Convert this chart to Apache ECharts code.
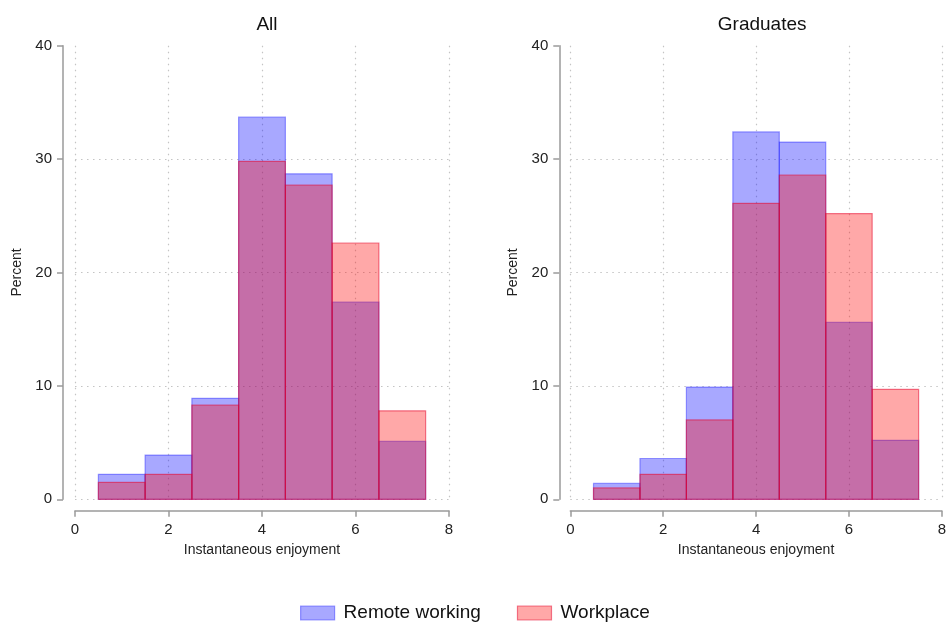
<!DOCTYPE html>
<html>
<head>
<meta charset="utf-8">
<script src="https://cdn.jsdelivr.net/npm/echarts@6/dist/echarts.min.js"></script>
<style>
  html, body { margin: 0; padding: 0; background: #fff; }
  #chart { width: 949px; height: 623px; }
</style>
</head>
<body>
<div id="chart"></div>
<script>
// Histogram bins (centre of each unit-wide bin) and percentages per group
const binCentres = [1, 2, 3, 4, 5, 6, 7];
const panelTitles = ['All', 'Graduates'];
const seriesNames = ['Remote working', 'Workplace'];

const allRemote    = [2.2, 3.9, 8.9, 33.7, 28.7, 17.4, 5.1];
const allWorkplace = [1.5, 2.2, 8.3, 29.8, 27.7, 22.6, 7.8];
const gradRemote    = [1.4, 3.6, 9.9, 32.4, 31.5, 15.6, 5.2];
const gradWorkplace = [1.0, 2.2, 7.0, 26.1, 28.6, 25.2, 9.7];

const xTicks = [0, 2, 4, 6, 8];
const yTicks = [0, 10, 20, 30, 40];

const panelData = [
  [allRemote, allWorkplace],
  [gradRemote, gradWorkplace]
];

const FONT = 'Liberation Sans, Arial, sans-serif';
const fills = ['rgba(0,0,255,0.34)', 'rgba(255,0,0,0.34)'];
const strokes = ['rgba(40,40,255,0.45)', 'rgba(230,0,40,0.5)'];

const grids = [
  { left: 75, width: 374, top: 45.7, height: 453.6 },
  { left: 570.3, width: 373.7, top: 45.7, height: 453.6 }
];

function histRenderer(fill, stroke) {
  return function (params, api) {
    const x = api.value(0);
    const v = api.value(1);
    const p0 = api.coord([x - 0.5, v]);
    const p1 = api.coord([x + 0.5, 0]);
    return {
      type: 'rect',
      shape: { x: p0[0], y: p0[1], width: p1[0] - p0[0], height: p1[1] - p0[1] },
      style: { fill: fill, stroke: stroke, lineWidth: 1.2 }
    };
  };
}

const xAxes = [], yAxes = [], series = [], titles = [];
grids.forEach(function (g, i) {
  titles.push({
    text: panelTitles[i],
    left: g.left + g.width / 2,
    top: 10,
    textAlign: 'center',
    textStyle: { fontFamily: FONT, fontSize: 19, fontWeight: 'normal', color: '#111' }
  });
  xAxes.push({
    type: 'value', gridIndex: i,
    min: xTicks[0], max: xTicks[xTicks.length - 1], interval: xTicks[1] - xTicks[0],
    offset: 11.4,
    name: 'Instantaneous enjoyment', nameLocation: 'middle', nameGap: 32,
    nameTextStyle: { fontFamily: FONT, fontSize: 14, color: '#222' },
    axisLine: { show: true, onZero: false, lineStyle: { color: '#9a9a9a', width: 1.5 } },
    axisTick: { show: true, length: 6, lineStyle: { color: '#9a9a9a', width: 1.5 } },
    axisLabel: { fontFamily: FONT, fontSize: 15, color: '#222', margin: 12 },
    splitLine: { show: true, lineStyle: { color: '#c4c4c4', type: [1.5, 4.5], width: 1.2 } }
  });
  yAxes.push({
    type: 'value', gridIndex: i,
    min: yTicks[0], max: yTicks[yTicks.length - 1], interval: yTicks[1] - yTicks[0],
    offset: i === 0 ? 12 : 11,
    name: 'Percent', nameLocation: 'middle', nameGap: 39,
    nameTextStyle: { fontFamily: FONT, fontSize: 14, color: '#222' },
    axisLine: { show: true, onZero: false, lineStyle: { color: '#9a9a9a', width: 1.5 } },
    axisTick: { show: true, length: 6, lineStyle: { color: '#9a9a9a', width: 1.5 } },
    axisLabel: { fontFamily: FONT, fontSize: 15, color: '#222', margin: 11 },
    splitLine: { show: true, showMaxLine: false, lineStyle: { color: '#c4c4c4', type: [1.5, 4.5], width: 1.2 } }
  });
  panelData[i].forEach(function (vals, s) {
    series.push({
      name: seriesNames[s],
      type: 'custom',
      xAxisIndex: i, yAxisIndex: i,
      renderItem: histRenderer(fills[s], strokes[s]),
      itemStyle: { color: fills[s], borderColor: strokes[s], borderWidth: 1.2 },
      encode: { x: 0, y: 1 },
      data: binCentres.map(function (c, k) { return [c, vals[k]]; }),
      z: 2 + s
    });
  });
});

const chart = echarts.init(document.getElementById('chart'), null, { renderer: 'canvas' });
chart.setOption({
  backgroundColor: '#ffffff',
  animation: false,
  title: titles,
  grid: grids,
  xAxis: xAxes,
  yAxis: yAxes,
  legend: {
    left: 295, top: 597,
    itemWidth: 34, itemHeight: 14, itemGap: 36,
    icon: 'rect',
    textStyle: { fontFamily: FONT, fontSize: 19, color: '#111', padding: [0, 0, 0, 4], lineHeight: 22 },
    data: seriesNames.map(function (n, s) {
      return { name: n, itemStyle: { color: fills[s], borderColor: strokes[s], borderWidth: 1.2 } };
    })
  },
  series: series
});
</script>
</body>
</html>
